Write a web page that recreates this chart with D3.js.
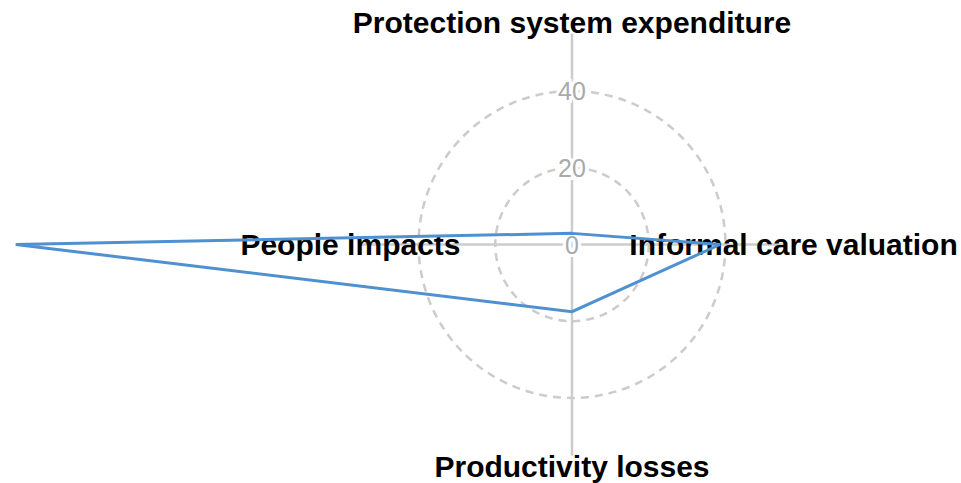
<!DOCTYPE html>
<html><head><meta charset="utf-8">
<script src="https://cdn.jsdelivr.net/npm/d3@7"></script>
<style>body{margin:0;background:#fff}svg{display:block}</style>
</head><body>
<script>
const categories = ["Protection system expenditure", "Informal care valuation", "Productivity losses", "People impacts"];
const values = [2.9, 38.6, 17.5, 145];
const tickValues = [0, 20, 40];
const domainMax = 55;

const W = 961, H = 483;
const cx = 572, cy = 244.5, R = 211;
const svg = d3.select("body").append("svg").attr("width", W).attr("height", H);
const g = svg.append("g").attr("transform", `translate(${cx},${cy})`);
const r = d3.scaleLinear().domain([0, domainMax]).range([0, R]);
const angle = i => -Math.PI / 2 + i * 2 * Math.PI / categories.length;

// circles
g.selectAll("circle.grid").data(tickValues.filter(d => d > 0)).join("circle")
  .attr("r", d => r(d)).attr("fill", "none").attr("stroke", "#cccccc")
  .attr("stroke-width", 2.5).attr("stroke-dasharray", "8,6");

// axes
g.selectAll("line.axis").data(categories).join("line")
  .attr("x1", 0).attr("y1", 0)
  .attr("x2", (d, i) => r(domainMax) * Math.cos(angle(i)))
  .attr("y2", (d, i) => r(domainMax) * Math.sin(angle(i)))
  .attr("stroke", "#cccccc").attr("stroke-width", 2.5);

// tick labels
g.selectAll("text.tick").data(tickValues).join("text")
  .attr("x", 0).attr("y", d => -r(d))
  .attr("text-anchor", "middle").attr("dominant-baseline", "central")
  .attr("font-family", "Liberation Sans, Arial, sans-serif").attr("font-size", 25)
  .attr("fill", "#aaaaaa").attr("stroke", "#ffffff").attr("stroke-width", 6)
  .attr("paint-order", "stroke")
  .text(d => d);

// axis labels
g.selectAll("text.lab").data(categories).join("text")
  .attr("x", (d, i) => r(domainMax) * 1.05 * Math.cos(angle(i)))
  .attr("y", (d, i) => r(domainMax) * 1.05 * Math.sin(angle(i)))
  .attr("text-anchor", "middle").attr("dominant-baseline", "central")
  .attr("font-family", "Liberation Sans, Arial, sans-serif").attr("font-weight", "bold")
  .attr("font-size", 30).attr("fill", "#000")
  .text(d => d);

// data polygon
const line = d3.lineRadial().angle((d, i) => i * 2 * Math.PI / categories.length).radius(d => r(d)).curve(d3.curveLinearClosed);
g.append("path").datum(values).attr("d", line)
  .attr("fill", "none").attr("stroke", "#4f91d0").attr("stroke-width", 3);
</script>
</body></html>
